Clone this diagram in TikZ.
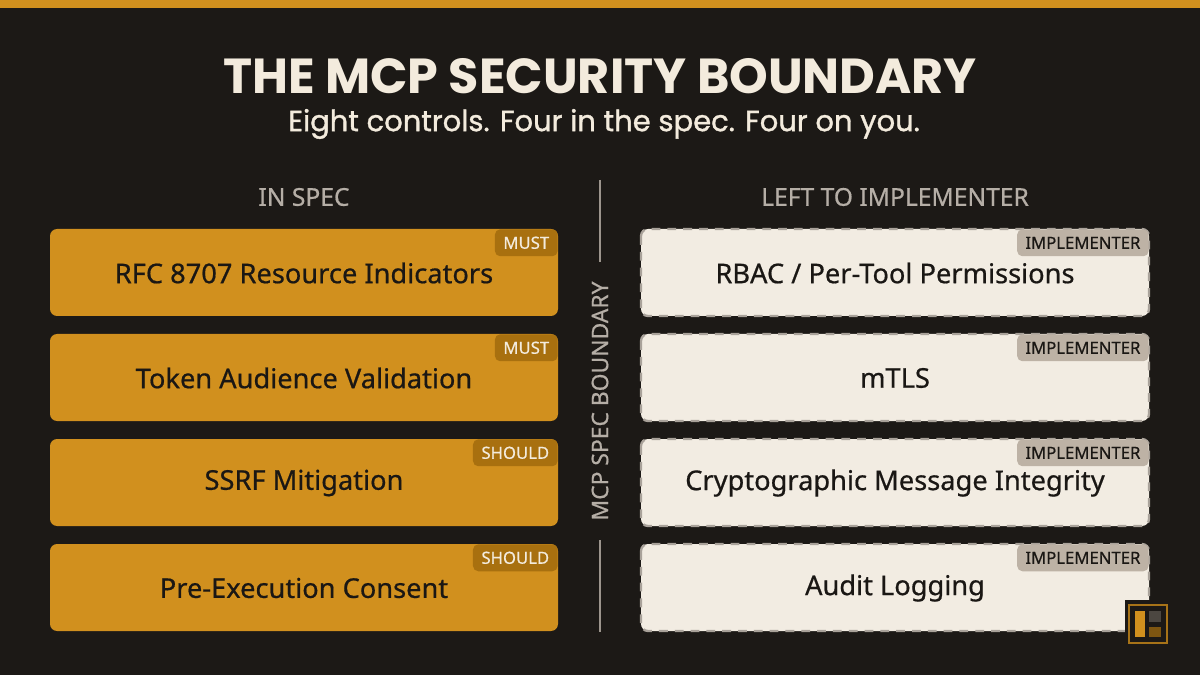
\documentclass[tikz,border=0pt]{standalone}
\usepackage{fontspec}
\setmainfont{Noto Sans}
\newfontfamily\titlefont{Poppins}
\newfontfamily\medfont[FakeBold=0.6]{Noto Sans}
\newfontfamily\subfont[FakeBold=1.2]{Poppins}
\begin{document}
\begin{tikzpicture}[x=0.02cm,y=-0.02cm,
  spec/.style={fill=gold,rounded corners=4pt,draw=none},
  impl/.style={fill=cream,rounded corners=4pt,draw=dashgray,line width=1.3pt,dash pattern=on 5pt off 4pt},
  lbl/.style={font=\medfont\fontsize{15.5}{18}\selectfont,text=ink},
  mbadge/.style={fill=badgegold,text=creamtxt,font=\medfont\fontsize{9.5}{11}\selectfont,inner sep=0pt,minimum height=27*0.567pt,anchor=north east,rounded corners=3pt},
  ibadge/.style={fill=badgegray,text=ink,font=\medfont\fontsize{9.5}{11}\selectfont,inner sep=0pt,minimum height=27*0.567pt,minimum width=132*0.567pt,anchor=north east,rounded corners=3pt},
  head/.style={font=\medfont\fontsize{14}{16}\selectfont,text=headgray}]
\definecolor{bg}{HTML}{1C1916}
\definecolor{gold}{HTML}{D1901E}
\definecolor{badgegold}{HTML}{A8700F}
\definecolor{cream}{HTML}{F2ECE2}
\definecolor{creamtxt}{HTML}{F3EBDD}
\definecolor{dashgray}{HTML}{A9A29A}
\definecolor{badgegray}{HTML}{BDB2A5}
\definecolor{ink}{HTML}{1A1714}
\definecolor{headgray}{HTML}{B5AEA6}
\definecolor{linegray}{HTML}{9C958D}
\fill[bg] (0,0) rectangle (1200,675);
\useasboundingbox (0,0) rectangle (1200,675);
\fill[gold] (0,0) rectangle (1200,8);
\node (title) at (600,76) {\titlefont\bfseries\fontsize{28}{32}\selectfont\color{creamtxt}THE MCP SECURITY BOUNDARY};
\node (sub) at (604,124) {\subfont\fontsize{16.5}{20}\selectfont\color{creamtxt}Eight controls. Four in the spec. Four on you.};
\node[head] (hl) at (304,197) {IN SPEC};
\node[head] (hr) at (895,197) {LEFT TO IMPLEMENTER};
\coordinate (v1) at (600,180); \coordinate (v2) at (600,262);
\coordinate (v3) at (600,540); \coordinate (v4) at (600,632);
\draw[linegray,line width=1pt] (v1) -- (v2) (v3) -- (v4);
\node[rotate=90,text=headgray,font=\medfont\fontsize{13}{15}\selectfont] (vb) at (600,401) {MCP SPEC BOUNDARY};
\foreach \i/\t/\b/\w in {0/RFC 8707 Resource Indicators/MUST/63,1/Token Audience Validation/MUST/63,2/SSRF Mitigation/SHOULD/85,3/Pre-Execution Consent/SHOULD/85}{
  \pgfmathsetmacro{\yt}{229+105*\i}
  \fill[spec] (50,\yt) rectangle (558,\yt+87);
  \node[lbl] (l\i) at (304,\yt+44) {\t};
  \node[mbadge,minimum width=\w*0.567pt] (lb\i) at (558,\yt) {\b};
}
\foreach \i/\t in {0/{RBAC / Per-Tool Permissions},1/mTLS,2/Cryptographic Message Integrity,3/Audit Logging}{
  \pgfmathsetmacro{\yt}{229+105*\i}
  \draw[impl] (641,\yt) rectangle (1149,\yt+87);
  \node[lbl] (r\i) at (895,\yt+44) {\t};
  \node[ibadge] (rb\i) at (1149,\yt) {IMPLEMENTER};
}
\fill[bg] (1125,600) rectangle (1173,650);
\draw[gold!80!black,line width=1pt] (1129,605) rectangle (1167,643);
\fill[gold] (1135,611) rectangle (1145,637);
\fill[badgegray!30!bg] (1149,611) rectangle (1161,622);
\fill[badgegold!70!bg] (1149,627) rectangle (1161,637);
\end{tikzpicture}
\end{document}
